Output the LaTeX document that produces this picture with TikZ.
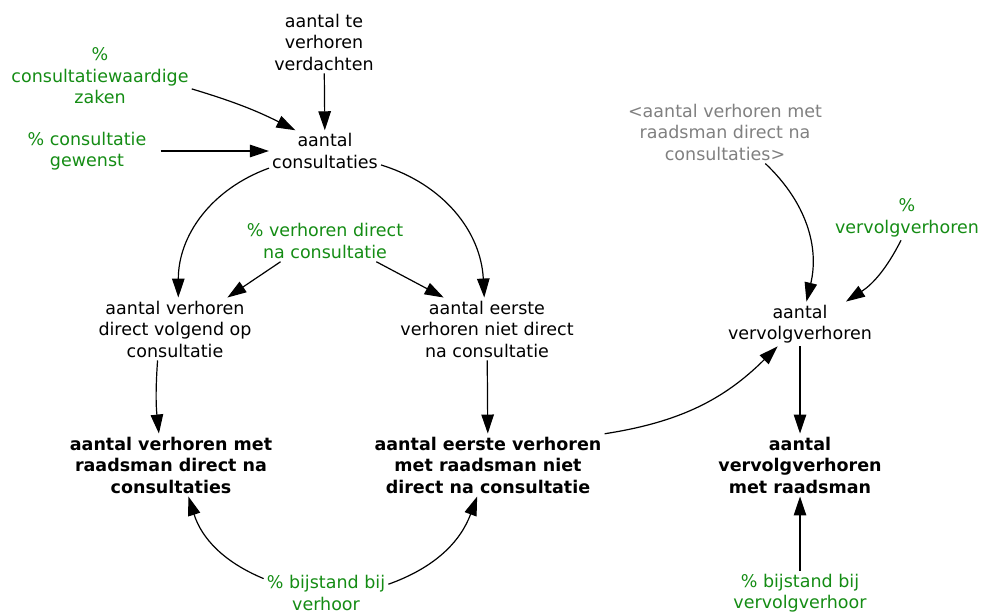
\documentclass[tikz,border=0pt]{standalone}
\usepackage{fontspec}
\setmainfont{DejaVu Sans}
\usetikzlibrary{arrows.meta}
\definecolor{constgreen}{RGB}{20,140,20}
\definecolor{shadowgray}{RGB}{128,128,128}
\begin{document}
\begin{tikzpicture}[x=1pt,y=1pt,
	var/.style={align=center,inner sep=3pt,font=\fontsize{17.5}{21.5}\selectfont},
	const/.style={var,text=constgreen},
	level/.style={var,font=\fontsize{17.5}{21.5}\selectfont\bfseries},
	shadow/.style={var,text=shadowgray},
	link/.style={-{Triangle[length=19pt,width=12.5pt]},line width=1.2pt}]
	\useasboundingbox (0,0) rectangle (982,-613);
	\node[var] (teverhoren) at (324,-42) {aantal te\\verhoren\\verdachten};
	\node[const] (pwaardig) at (100,-76) {\%\\consultatiewaardige\\zaken};
	\node[const] (pgewenst) at (87,-151) {\% consultatie\\gewenst};
	\node[var] (consult) at (325,-151) {aantal\\consultaties};
	\node[const] (pdirect) at (325,-241) {\% verhoren direct\\na consultatie};
	\node[var] (direct) at (175,-329) {aantal verhoren\\direct volgend op\\consultatie};
	\node[var] (nietdirect) at (487,-329) {aantal eerste\\verhoren niet direct\\na consultatie};
	\node[level] (rdirect) at (171,-465) {aantal verhoren met\\raadsman direct na\\consultaties};
	\node[level] (rnietdirect) at (488,-465) {aantal eerste verhoren\\met raadsman niet\\direct na consultatie};
	\node[const] (pbijstand) at (326,-593) {\% bijstand bij\\verhoor};
	\node[shadow] (rdirectsh) at (725,-132) {<aantal verhoren met\\raadsman direct na\\consultaties>};
	\node[const] (pvervolg) at (907,-218) {\%\\vervolgverhoren};
	\node[var] (vervolg) at (800,-324) {aantal\\vervolgverhoren};
	\node[level] (rvervolg) at (800,-465) {aantal\\vervolgverhoren\\met raadsman};
	\node[const] (pbijstandv) at (800,-593) {\% bijstand bij\\vervolgverhoor};
	\draw[link] (teverhoren) -- (consult);
	\draw[link] (pwaardig.-8) to[bend left=5] (consult.145);
	\draw[link,shorten <=11pt] (pgewenst.east) -- (consult.west);
	\draw[link] (consult.197) to[bend right=35] (direct.84);
	\draw[link] (consult.-14) to[bend left=35] (nietdirect.95);
	\draw[link] (pdirect.205) -- (direct.31);
	\draw[link] (pdirect.-22) -- (nietdirect.144);
	\draw[link] (direct.241) to[bend right=5] (rdirect.111);
	\draw[link] (nietdirect) -- (rnietdirect);
	\draw[link] (pbijstand.167) to[bend left=25] (rdirect.-61);
	\draw[link] (pbijstand.8) to[bend right=25] (rnietdirect.251);
	\draw[link] (rnietdirect.15) to[bend right=18] (vervolg.225);
	\draw[link] (rdirectsh.-38) to[bend left=30] (vervolg.74);
	\draw[link] (pvervolg.255) to[bend left=15] (vervolg.26);
	\draw[link] (vervolg) -- (rvervolg);
	\draw[link] (pbijstandv) -- (rvervolg);
\end{tikzpicture}
\end{document}
